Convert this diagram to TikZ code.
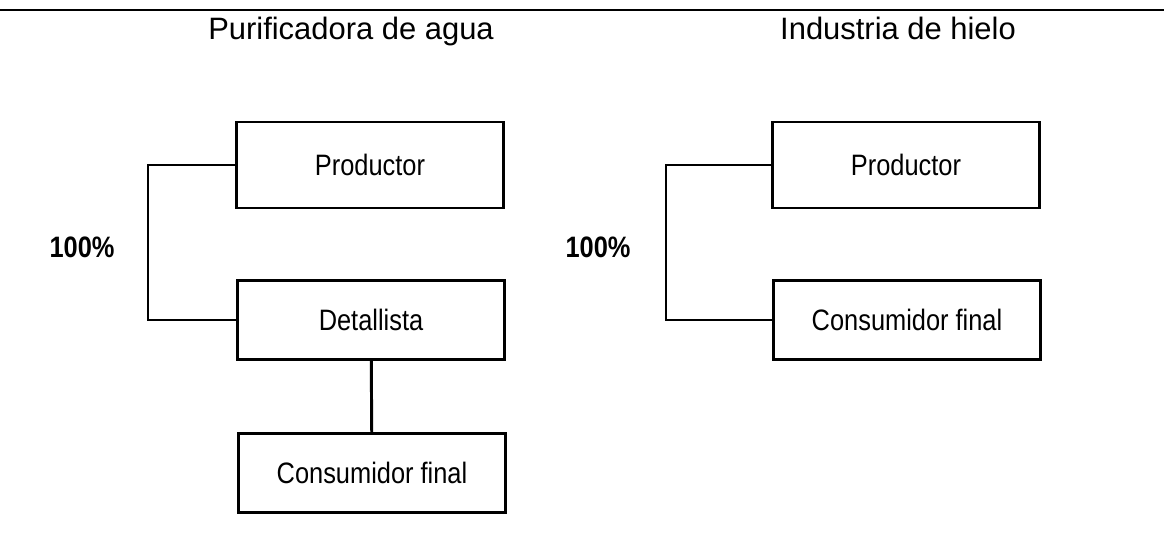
\documentclass[tikz,border=0pt]{standalone}
\usepackage{fontspec}
\setmainfont{Liberation Sans}
\newfontfamily\narrowfont[FakeStretch=0.86]{Liberation Sans}
\usetikzlibrary{positioning}

\tikzset{
	boxnode/.style={rectangle, draw, line width=2.1pt, minimum width=6.65cm, minimum height=1.975cm, font=\narrowfont\fontsize{21}{24}\selectfont},
	titlenode/.style={anchor=base, font=\fontsize{22}{26}\selectfont},
	pctnode/.style={font=\narrowfont\bfseries\fontsize{21}{24}\selectfont},
	link/.style={line width=2.1pt}
}

\begin{document}
\begin{tikzpicture}[x=0.025cm, y=-0.025cm]
	\useasboundingbox (0,0) rectangle (1164,552);
	\draw[line width=1.5pt] (0,10) -- (1164,10);

	% Titles of the two branches
	\node[titlenode] (T1) at (351, 39) {Purificadora de agua};
	\node[titlenode] (T2) at (898, 39) {Industria de hielo};

	% Purificadora de agua
	\node[boxnode, minimum height=2.15cm] (P1) at (370, 165) {Productor};
	\node[boxnode] (D1) at (371, 320) {Detallista};
	\node[boxnode] (C1) at (372, 473) {Consumidor final};
	\coordinate (B1) at (148, 165);
	\node[pctnode] (N1) at (82, 247) {100\%};

	\draw[link] (P1.west) -- (B1) |- (D1.west);
	\draw[link] (D1) -- (C1);

	% Industria de hielo
	\node[boxnode, minimum height=2.15cm] (P2) at (906, 165) {Productor};
	\node[boxnode] (C2) at (907, 320) {Consumidor final};
	\coordinate (B2) at (666, 165);
	\node[pctnode] (N2) at (598, 247) {100\%};

	\draw[link] (P2.west) -- (B2) |- (C2.west);
\end{tikzpicture}
\end{document}
